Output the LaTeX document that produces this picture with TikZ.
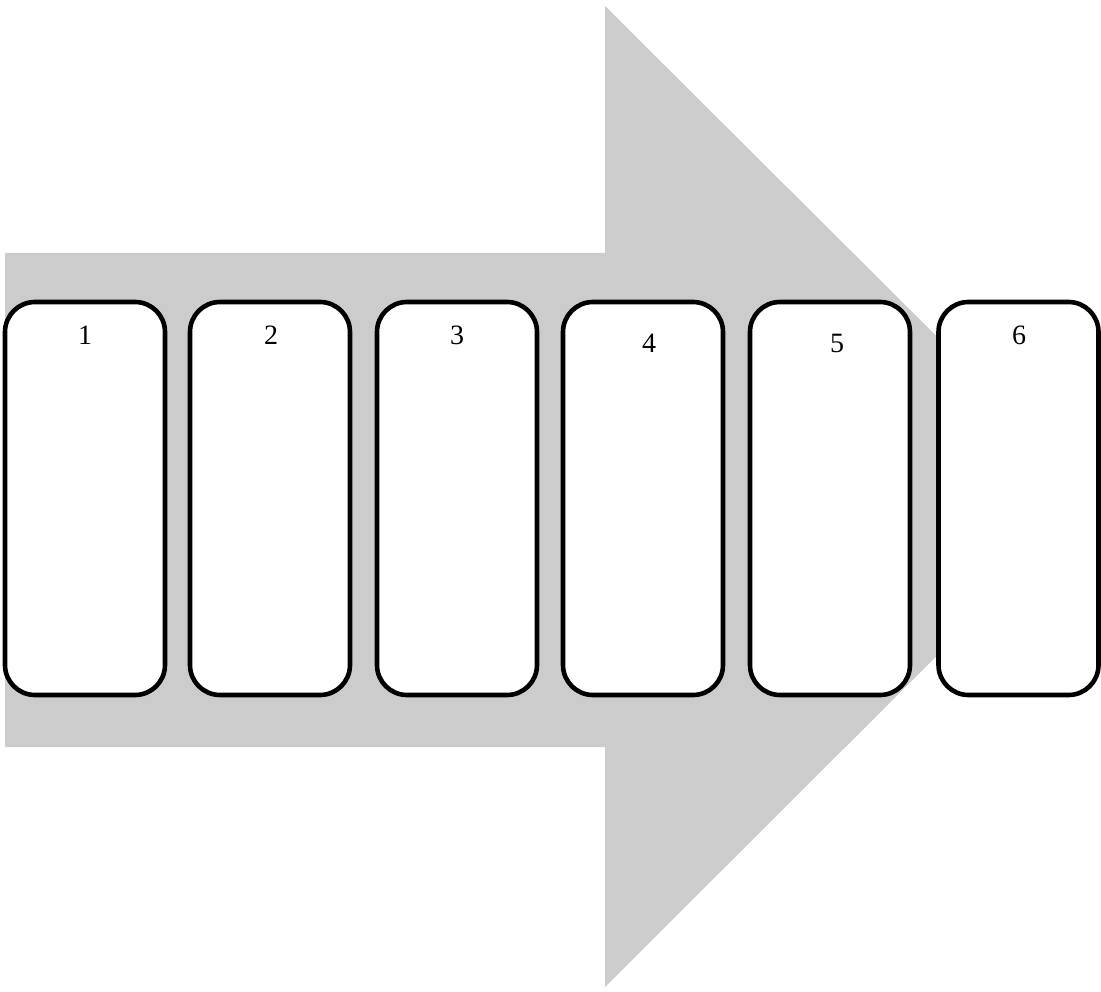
\documentclass[tikz,border=0pt]{standalone}
\usepackage{fontspec}
\setmainfont{Liberation Serif}
\definecolor{arrowgray}{HTML}{CCCCCC}
\begin{document}
\begin{tikzpicture}[x=1pt,y=-1pt,
  card/.style={draw=black,fill=white,line width=4.6pt,rounded corners=30pt,
    minimum width=160pt,minimum height=393pt,inner sep=0pt},
  num/.style={font=\fontsize{28}{30}\selectfont,inner sep=0pt}]
\useasboundingbox (0,0) rectangle (1101,992);
\fill[arrowgray] (5,253) -- (605,253) -- (605,6) -- (1097,496) -- (605,987) -- (605,747) -- (5,747) -- cycle;
\node[card] (b1) at (85,498.5) {};
\node[card] (b2) at (270,498.5) {};
\node[card] (b3) at (457,498.5) {};
\node[card] (b4) at (643,498.5) {};
\node[card] (b5) at (830,498.5) {};
\node[card] (b6) at (1018.5,498.5) {};
\node[num] (l1) at (85,335) {1};
\node[num] (l2) at (271,335) {2};
\node[num] (l3) at (457,335) {3};
\node[num] (l4) at (649,343) {4};
\node[num] (l5) at (837,343) {5};
\node[num] (l6) at (1019,335) {6};
\end{tikzpicture}
\end{document}
